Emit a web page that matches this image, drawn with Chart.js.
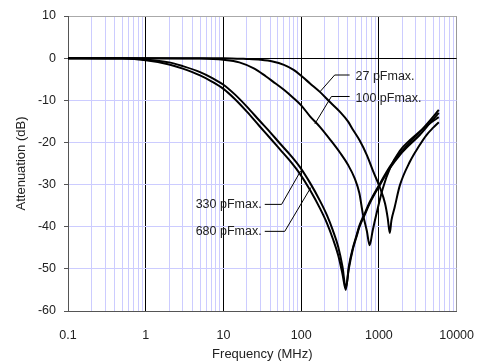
<!DOCTYPE html>
<html>
<head>
<meta charset="utf-8">
<script src="https://cdn.jsdelivr.net/npm/chart.js@4.4.0/dist/chart.umd.min.js"></script>
<style>
  body { margin: 0; background: #fff; }
  canvas { display: block; }
</style>
</head>
<body>
<canvas id="attenuationChart" width="491" height="363"></canvas>
<script>
// values (frequency in MHz, attenuation in dB)
const freq27 = [0.1, 1, 10, 20, 30, 43, 60, 80, 100, 130, 174, 240, 318, 400, 457, 564, 700, 850, 1020, 1200, 1300, 1380, 1450, 1590, 1860, 2500, 3300, 4070, 5000, 5900];
const att27  = [0, 0, 0, -0.2, -0.4, -0.8, -1.6, -2.8, -4.2, -6, -8, -10.6, -12.8, -15, -16.8, -19.5, -23, -27, -30.5, -34.5, -38, -41.5, -38.5, -35.5, -30.2, -24.6, -20.8, -18.3, -16.5, -15.2];

const freq100 = [0.1, 1, 5, 10, 16, 25, 35, 43, 60, 80, 100, 130, 174, 240, 318, 400, 490, 560, 623, 700, 760, 830, 929, 1120, 1400, 1860, 2500, 3300, 4500, 5900];
const att100  = [0, 0, -0.1, -0.4, -1, -2.5, -4.3, -5.5, -7.5, -9.5, -11.2, -13.8, -16.3, -19.5, -22.5, -25.3, -28.6, -32, -37, -41, -44.4, -41, -37, -31, -26, -22, -19.5, -17.5, -15.5, -14];

const freq330 = [0.1, 0.5, 1, 2, 3, 5, 7, 10, 14, 20, 29, 40, 53, 75, 96, 130, 174, 215, 255, 300, 340, 375, 410, 460, 513, 563, 663, 760, 1020, 1400, 1860, 2500, 3330, 4500, 5900];
const att330  = [0, -0.05, -0.3, -1, -1.9, -3.3, -4.6, -6.3, -8.6, -11.5, -14.8, -17.6, -20.2, -23.3, -25.8, -29.6, -33.8, -37.3, -40.8, -44.8, -49.5, -54.5, -50, -45.5, -42.5, -40, -37, -34.5, -30.2, -26, -23, -20.5, -18.3, -15.5, -13];

const freq680 = [0.1, 0.5, 1, 2, 3, 5, 7, 10, 14, 20, 29, 40, 53, 75, 96, 130, 174, 215, 255, 300, 340, 375, 410, 460, 513, 563, 663, 760, 1020, 1400, 1860, 2500, 3330, 4500, 5900];
const att680  = [0, -0.1, -0.5, -1.5, -2.5, -4.1, -5.5, -7.3, -9.7, -12.7, -16.1, -19, -21.6, -24.8, -27.4, -31.3, -35.6, -39.2, -42.8, -46.8, -51.2, -55, -49.5, -45.2, -42.2, -39.7, -36.7, -34.2, -29.9, -25.6, -22.6, -20, -17.6, -14.9, -12.3];

const xTicks = [0.1, 1, 10, 100, 1000, 10000];
const yTicks = [10, 0, -10, -20, -30, -40, -50, -60];

// callouts: text anchor and leader line in data units
const callouts = [
    { text: "27 pFmax.",  at: [500, -4.4],  align: "left",  leader: [[420, -4.0], [270, -4.0], [174, -8.0]] },
    { text: "100 pFmax.", at: [500, -9.5],  align: "left",  leader: [[420, -9.1], [245, -9.1], [150, -15.6]] },
    { text: "330 pFmax.", at: [31, -34.7],  align: "right", leader: [[34, -34.7], [56, -34.7], [99, -26.7]] },
    { text: "680 pFmax.", at: [31, -41.1],  align: "right", leader: [[34, -41.1], [61.5, -41.1], [133, -30.7]] }
];

const FONT = '"Liberation Sans", Arial, sans-serif';

function zip(xs, ys) {
    return xs.map((v, i) => ({ x: v, y: ys[i] }));
}

function isDecade(v) {
    return xTicks.some(t => Math.abs(t - v) / t < 1e-6);
}

// minor grid positions 1..9 per decade
let xGrid = [];
for (let i = 0; i < xTicks.length - 1; i++) {
    for (let m = 1; m < 10; m++) xGrid.push(xTicks[i] * m);
}
xGrid.push(xTicks[xTicks.length - 1]);

function series(xs, ys) {
    return {
        data: zip(xs, ys),
        showLine: true,
        borderColor: "#000",
        borderWidth: 2,
        pointRadius: 0,
        cubicInterpolationMode: "monotone"
    };
}

const calloutPlugin = {
    id: "callouts",
    afterDatasetsDraw(chart) {
        const { ctx, scales: { x, y } } = chart;
        ctx.save();
        ctx.strokeStyle = "#000";
        ctx.lineWidth = 1;
        ctx.fillStyle = "#222";
        ctx.font = "12.5px " + FONT;
        ctx.textBaseline = "middle";
        callouts.forEach(c => {
            ctx.beginPath();
            c.leader.forEach((p, i) => {
                const px = x.getPixelForValue(p[0]);
                const py = y.getPixelForValue(p[1]);
                if (i === 0) ctx.moveTo(px, py); else ctx.lineTo(px, py);
            });
            ctx.stroke();
            ctx.textAlign = c.align;
            ctx.fillText(c.text, x.getPixelForValue(c.at[0]), y.getPixelForValue(c.at[1]));
        });
        ctx.restore();
    }
};

const ctx = document.getElementById("attenuationChart").getContext("2d");

new Chart(ctx, {
    type: "scatter",
    data: {
        datasets: [
            series(freq27, att27),
            series(freq100, att100),
            series(freq330, att330),
            series(freq680, att680)
        ]
    },
    options: {
        responsive: false,
        animation: false,
        layout: { padding: { left: 0, right: 34, top: 16, bottom: 0 } },
        plugins: {
            legend: { display: false },
            tooltip: { enabled: false }
        },
        scales: {
            x: {
                type: "logarithmic",
                min: 0.1,
                max: 10000,
                afterBuildTicks: scale => { scale.ticks = xGrid.map(v => ({ value: v })); },
                afterFit: scale => { scale.height = 52; },
                ticks: {
                    autoSkip: false,
                    maxRotation: 0,
                    padding: 17,
                    color: "#222",
                    font: { family: FONT, size: 12.5 },
                    callback: v => isDecade(v) ? String(v) : ""
                },
                grid: {
                    drawTicks: false,
                    lineWidth: 1,
                    color: c => {
                        const v = c.tick.value;
                        if (isDecade(v)) return v > 9000 ? "#999" : "#000";
                        return "#ccccff";
                    }
                },
                border: { display: true, color: "#555", width: 1 },
                title: {
                    display: true,
                    text: "Frequency (MHz)",
                    color: "#222",
                    font: { family: FONT, size: 13 },
                    padding: { top: 0, bottom: 1 }
                }
            },
            y: {
                min: -60,
                max: 10,
                afterBuildTicks: scale => { scale.ticks = yTicks.map(v => ({ value: v })); },
                afterFit: scale => { scale.width = 68; },
                ticks: {
                    padding: 8,
                    color: "#222",
                    font: { family: FONT, size: 12.5 }
                },
                grid: {
                    tickLength: 4,
                    tickColor: "#555",
                    lineWidth: 1,
                    color: c => {
                        const v = c.tick.value;
                        if (v === 0) return "#000";
                        if (v === 10) return "#aaa";
                        return "#ccccff";
                    }
                },
                border: { display: true, color: "#555", width: 1 },
                title: {
                    display: true,
                    text: "Attenuation (dB)",
                    color: "#222",
                    font: { family: FONT, size: 13 },
                    padding: { top: 14, bottom: 0 }
                }
            }
        }
    },
    plugins: [calloutPlugin]
});
</script>
</body>
</html>
